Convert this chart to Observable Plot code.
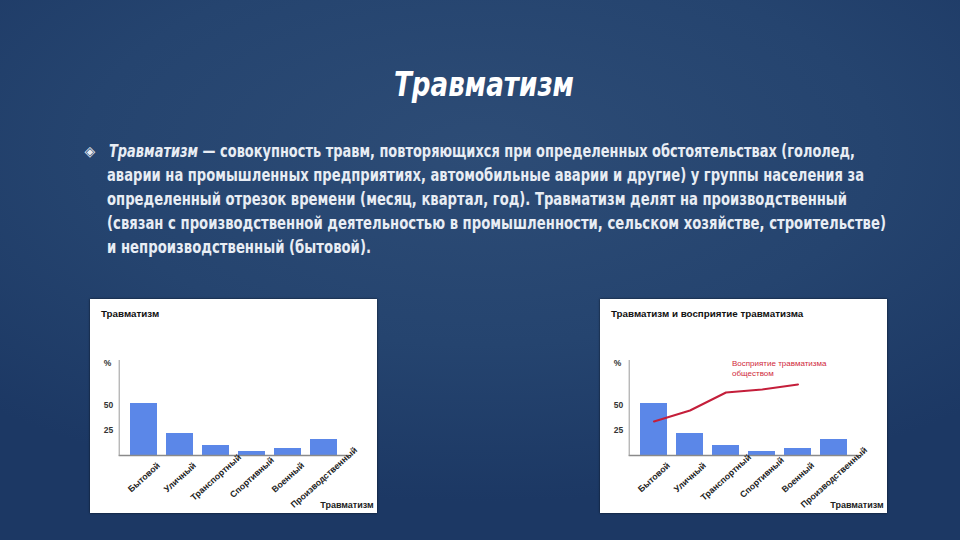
<!DOCTYPE html>
<html><head><meta charset="utf-8">
<script src="https://cdn.jsdelivr.net/npm/d3@7"></script>
<script src="https://cdn.jsdelivr.net/npm/@observablehq/plot@0.6"></script>
<style>
html,body{margin:0;padding:0;background:#1e3b66;}
#slide{position:relative;width:960px;height:540px;overflow:hidden;
 background: radial-gradient(ellipse 75% 65% at 50% 28%, #2d4c76 0%, #25446f 55%, #1c3864 100%);}
.panel{position:absolute;background:#fff;width:287px;height:214px;box-shadow:0 0 2px rgba(0,0,0,.7);}
.ptitle{position:absolute;left:11px;top:10px;z-index:2;font:bold 9.8px/10px "Liberation Sans",Arial,sans-serif;color:#111;white-space:nowrap;}
.panel svg{position:absolute;left:0;top:0;}
</style></head><body>
<div id="slide">
<svg id="txt" width="960" height="540" style="position:absolute;left:0;top:0"></svg>
<div class="panel" id="p1" style="left:90px;top:299px"><div class="ptitle">Травматизм</div></div>
<div class="panel" id="p2" style="left:600px;top:299px"><div class="ptitle">Травматизм и восприятие травматизма</div></div>
</div>
<script>
// ---- data ----
const categories = ["Бытовой","Уличный","Транспортный","Спортивный","Военный","Производственный"];
const injuryShare = [52, 22, 10, 4, 7, 16];
const perceptionCategories = ["Бытовой","Уличный","Транспортный","Спортивный","Военный"];
const perceptionShare = [34, 45, 63, 66, 71];
const yTicks = [25, 50];
const yUnit = "%";
const xTitle = "Травматизм";
const annotation = "Восприятие травматизма\nобществом";

// ---- slide text ----
const narrow = '"Liberation Sans Narrow","Arial Narrow","DejaVu Sans Condensed",sans-serif';
const svg = d3.select("#txt");
svg.append("text").attr("x",484).attr("y",96).attr("text-anchor","middle")
  .attr("font-size",34).attr("font-style","italic").attr("font-weight","bold")
  .attr("font-family",narrow).attr("fill","#ffffff")
  .attr("textLength",180).attr("lengthAdjust","spacingAndGlyphs").text("Травматизм");
svg.append("text").attr("x",90).attr("y",156).attr("text-anchor","middle")
  .attr("font-size",14).attr("font-family","DejaVu Sans").attr("fill","#e8edf4").text("◈");
const lines = [
  {x:109,y:157,w:746,parts:[["Травматизм","italic"],[" — совокупность травм, повторяющихся при определенных обстоятельствах (гололед,","normal"]]},
  {x:107,y:181,w:757,parts:[["аварии на промышленных предприятиях, автомобильные аварии и другие) у группы населения за","normal"]]},
  {x:107,y:205,w:740,parts:[["определенный отрезок времени (месяц, квартал, год). Травматизм делят на производственный","normal"]]},
  {x:107,y:229,w:779,parts:[["(связан с производственной деятельностью в промышленности, сельском хозяйстве, строительстве)","normal"]]},
  {x:107,y:253,w:264,parts:[["и непроизводственный (бытовой).","normal"]]}
];
for (const l of lines){
  const t = svg.append("text").attr("x",l.x).attr("y",l.y).attr("font-size",17)
    .attr("font-weight","bold").attr("font-family",narrow).attr("fill","#e8edf4")
    .attr("textLength",l.w).attr("lengthAdjust","spacingAndGlyphs").attr("xml:space","preserve");
  for (const [s,st] of l.parts) t.append("tspan").attr("font-style",st).text(s);
}

// ---- charts ----
function chart(withLine){
  const bars = categories.map((c,i)=>({cat:c, value:injuryShare[i]}));
  const font = {fontFamily:'"Liberation Sans",Arial,sans-serif'};
  const marks = [
    Plot.barY(bars,{x:"cat",y:"value",fill:"#5b87e8"}),
    Plot.ruleY([0],{stroke:"#8a8a8a",strokeWidth:1.5}),
    Plot.frame({anchor:"left",stroke:"#9a9a9a"}),
    Plot.axisY(yTicks,{tickSize:0,tickPadding:6,fontSize:8.5,fontWeight:"bold",fill:"#333",label:null}),
    Plot.text([yUnit],{frameAnchor:"top-left",textAnchor:"end",lineAnchor:"middle",dx:-8,dy:3,fontSize:8.5,fontWeight:"bold",fill:"#333"}),
    Plot.text(categories,{x:d=>d,frameAnchor:"bottom",rotate:-42,dy:22,textAnchor:"middle",lineAnchor:"middle",fontSize:8.8,fontWeight:"bold",fill:"#222"}),
    Plot.text([xTitle],{frameAnchor:"bottom-right",textAnchor:"end",lineAnchor:"bottom",dx:24,dy:52,fontSize:9,fontWeight:"bold",fill:"#222"})
  ];
  if (withLine){
    const pts = perceptionCategories.map((c,i)=>({cat:c, value:perceptionShare[i]}));
    marks.push(Plot.line(pts,{x:"cat",y:"value",stroke:"#c41e3a",strokeWidth:2}));
    marks.push(Plot.text([annotation],{x:()=>categories[2],y:()=>88,textAnchor:"start",lineAnchor:"middle",dx:6,fontSize:8,lineHeight:1.25,fill:"#d0283a"}));
  }
  return Plot.plot({
    width:287, height:214,
    marginLeft:28.7, marginRight:27.8, marginTop:61, marginBottom:58,
    style:{background:"transparent",...font},
    x:{domain:categories, paddingInner:0.25, paddingOuter:0.29, axis:null},
    y:{domain:[0,95], label:null},
    marks
  });
}
document.getElementById("p1").appendChild(chart(false));
document.getElementById("p2").appendChild(chart(true));
</script>
</body></html>
